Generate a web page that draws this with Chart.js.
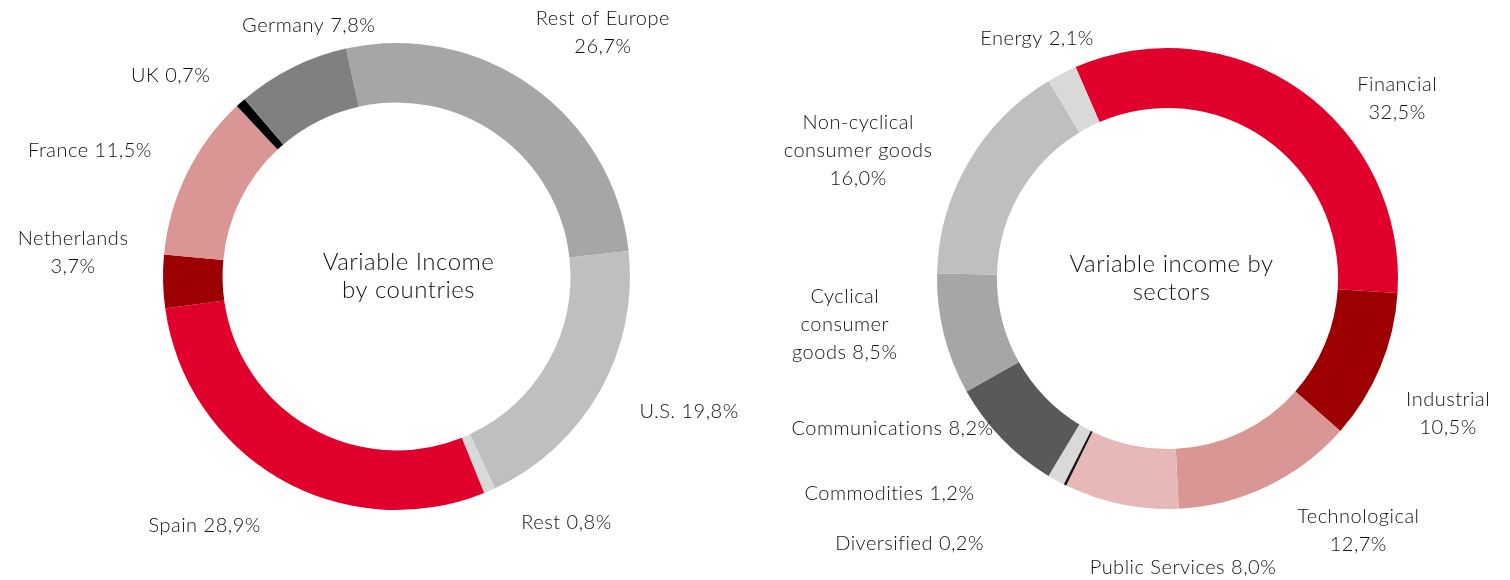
<!DOCTYPE html>
<html>
<head>
<meta charset="utf-8">
<script src="https://cdn.jsdelivr.net/npm/chart.js@4.4.1/dist/chart.umd.min.js"></script>
<style>
  html, body { margin: 0; padding: 0; background: #fff; }
  #wrap { position: relative; width: 1510px; height: 580px; }
  .panel { position: absolute; top: 0; width: 755px; height: 580px; }
  #left { left: 0; }
  #right { left: 755px; }
</style>
</head>
<body>
<div id="wrap">
  <div class="panel" id="left"><canvas id="countriesChart"></canvas></div>
  <div class="panel" id="right"><canvas id="sectorsChart"></canvas></div>
</div>
<script>
// ---------- Dades ----------
const countries = ['Rest of Europe', 'U.S.', 'Rest', 'Spain', 'Netherlands', 'France', 'UK', 'Germany'];
const countryShares = [26.7, 19.8, 0.8, 28.9, 3.7, 11.5, 0.7, 7.8];
const countryColors = ['#a6a6a6', '#bfbfbf', '#d9d9d9', '#e0002b', '#9c0000', '#d99694', '#000000', '#808080'];

const sectors = ['Financial', 'Industrial', 'Technological', 'Public Services', 'Diversified',
  'Commodities', 'Communications', 'Cyclical\nconsumer\ngoods', 'Non-cyclical\nconsumer goods', 'Energy'];
const sectorShares = [32.5, 10.5, 12.7, 8.0, 0.2, 1.2, 8.2, 8.5, 16.0, 2.1];
const sectorColors = ['#e0002b', '#9c0000', '#d99694', '#e6b9b8', '#1a1a1a',
  '#d9d9d9', '#595959', '#a6a6a6', '#bfbfbf', '#d9d9d9'];

// ---------- Col·locació de les etiquetes (desplaçament des del punt mig de cada arc) ----------
const countryLabelLayout = [
  { dx: 53, dy: -30, sep: '\n' },
  { dx: 63, dy: 6, sep: ' ' },
  { dx: 65, dy: 4, sep: ' ' },
  { dx: -60, dy: 21, sep: ' ' },
  { dx: -60, dy: -30, sep: '\n' },
  { dx: -70, dy: -10, sep: ' ' },
  { dx: -50, dy: -5, sep: ' ' },
  { dx: 30, dy: -15, sep: ' ' }
];
const sectorLabelLayout = [
  { dx: 80, dy: 33, sep: '\n' },
  { dx: 40, dy: 35, sep: '\n' },
  { dx: 78, dy: 17, sep: '\n' },
  { dx: 68, dy: 34, sep: ' ' },
  { dx: -142, dy: 32, sep: ' ' },
  { dx: -152, dy: -13, sep: ' ' },
  { dx: -88, dy: -31, sep: ' ' },
  { dx: -70, dy: -17, sep: ' ' },
  { dx: -84, dy: 3, sep: '\n' },
  { dx: -11, dy: -8, sep: ' ' }
];

const FONT = '300 20px Lato, "Open Sans", sans-serif';
const CENTER_FONT = '300 24px Lato, "Open Sans", sans-serif';
const TEXT_COLOR = '#111111';
const LINE_H = 28;

const fmt = v => v.toFixed(1).replace('.', ',') + '%';

function drawLines(ctx, lines, x, y) {
  const top = y - (lines.length - 1) * LINE_H / 2;
  lines.forEach((ln, i) => ctx.fillText(ln, x, top + i * LINE_H));
}

// ---------- Plugin: etiquetes exteriors i text central ----------
const ringLabels = {
  id: 'ringLabels',
  afterDraw(chart, args, opts) {
    const ctx = chart.ctx;
    const meta = chart.getDatasetMeta(0);
    const names = chart.data.labels;
    const values = chart.data.datasets[0].data;
    ctx.save();
    ctx.font = FONT;
    ctx.fillStyle = TEXT_COLOR;
    ctx.textAlign = 'center';
    ctx.textBaseline = 'middle';
    if ('letterSpacing' in ctx) ctx.letterSpacing = opts.spacing || '0px';

    meta.data.forEach((arc, i) => {
      const p = arc.getProps(['x', 'y', 'startAngle', 'endAngle', 'outerRadius'], true);
      const mid = (p.startAngle + p.endAngle) / 2;
      const r = p.outerRadius + 30;
      const lay = opts.layout[i];
      const text = names[i] + lay.sep + fmt(values[i]);
      drawLines(ctx, text.split('\n'),
        p.x + Math.cos(mid) * r + lay.dx,
        p.y + Math.sin(mid) * r + lay.dy);
    });

    const c = meta.data[0].getProps(['x', 'y'], true);
    ctx.font = CENTER_FONT;
    drawLines(ctx, opts.center, c.x + opts.centerDx, c.y + opts.centerDy);
    ctx.restore();
  }
};

function makeRing(canvasId, labels, values, colors, cfg) {
  return new Chart(document.getElementById(canvasId), {
    type: 'doughnut',
    data: {
      labels: labels,
      datasets: [{
        data: values,
        backgroundColor: colors,
        borderWidth: 0,
        hoverOffset: 0,
        offset: 0
      }]
    },
    options: {
      responsive: true,
      maintainAspectRatio: false,
      animation: false,
      rotation: cfg.rotation,
      cutout: cfg.cutout,
      layout: { padding: cfg.padding },
      events: [],
      plugins: {
        legend: { display: false },
        tooltip: { enabled: false },
        ringLabels: {
          layout: cfg.labelLayout,
          center: cfg.center,
          centerDx: cfg.centerDx,
          centerDy: cfg.centerDy,
          spacing: '0.5px'
        }
      }
    },
    plugins: [ringLabels]
  });
}

makeRing('countriesChart', countries, countryShares, countryColors, {
  rotation: -12.5,
  cutout: '74.5%',
  padding: { left: 163, right: 125, top: 43, bottom: 70 },
  labelLayout: countryLabelLayout,
  center: ['Variable Income', 'by countries'],
  centerDx: 12,
  centerDy: 0
});

makeRing('sectorsChart', sectors, sectorShares, sectorColors, {
  rotation: -23.5,
  cutout: '74%',
  padding: { left: 182, right: 112, top: 48, bottom: 71 },
  labelLayout: sectorLabelLayout,
  center: ['Variable income by', 'sectors'],
  centerDx: 4,
  centerDy: 0
});
</script>
</body>
</html>
